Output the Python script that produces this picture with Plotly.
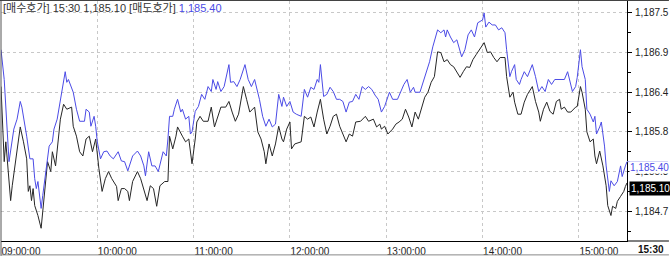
import plotly.graph_objects as go

# minutes after 09:00
ask_t = [0,2,5,6,8,10,12,13,14,16,18,20,21,22,23,25,26,28,30,32,33,35,37,39,40,41,42,45,47,49,52,53,55,56,58,59,60,62,64,66,68,70,73,75,77,79,82,85,87,89,90,92,94,96,98,101,103,104,105,107,108,110,112,113,115,117,118,119,121,123,125,127,129,131,132,134,135,137,139,142,143,145,147,149,152,154,156,158,160,161,163,165,167,169,171,173,175,176,178,180,182,184,187,189,191,193,195,197,198,199,201,203,205,207,209,211,213,215,217,219,221,223,225,227,229,231,233,235,237,239,242,244,247,249,251,253,255,257,258,261,263,265,267,269,272,274,276,277,278,280,282,284,286,287,289,291,293,295,297,300,301,302,304,306,308,310,312,314,315,317,318,320,321,323,324,326,328,331,333,335,337,339,341,343,345,348,351,353,354,356,358,359,361,362,364,365,367,369,370,371,373,374,376,377,379,380,382,384,386,387,389,390]
ask_v = [1186.98,1186.56,1185.40,1185.58,1185.86,1186.00,1186.25,1186.17,1186.04,1185.76,1185.44,1185.44,1185.16,1185.02,1185.12,1184.74,1184.92,1185.26,1185.62,1185.68,1185.86,1186.00,1186.28,1186.52,1186.67,1186.52,1186.56,1186.38,1186.14,1185.97,1185.97,1186.14,1186.10,1185.90,1186.04,1185.90,1185.68,1185.44,1185.54,1185.55,1185.48,1185.44,1185.54,1185.41,1185.40,1185.27,1185.48,1185.55,1185.48,1185.34,1185.20,1185.54,1185.34,1185.34,1185.26,1185.54,1185.48,1185.72,1186.04,1186.04,1186.14,1186.28,1186.10,1186.14,1186.00,1186.04,1185.79,1185.82,1186.11,1186.18,1186.35,1186.28,1186.46,1186.39,1186.56,1186.42,1186.53,1186.39,1186.46,1186.77,1186.52,1186.53,1186.46,1186.56,1186.77,1186.56,1186.46,1186.56,1186.38,1186.28,1186.04,1185.90,1186.00,1185.89,1185.93,1186.35,1186.18,1186.31,1186.18,1186.25,1186.10,1186.07,1186.04,1186.42,1186.31,1186.45,1186.42,1186.56,1186.52,1186.77,1186.32,1186.35,1186.45,1186.39,1186.28,1186.28,1186.25,1186.10,1186.24,1186.25,1186.35,1186.28,1186.46,1186.42,1186.46,1186.42,1186.34,1186.28,1186.10,1186.18,1186.38,1186.28,1186.28,1186.38,1186.49,1186.56,1186.38,1186.45,1186.38,1186.38,1186.52,1186.67,1186.81,1187.02,1187.26,1187.22,1187.26,1187.16,1187.26,1187.16,1187.08,1187.12,1186.98,1186.88,1186.98,1187.19,1187.26,1187.16,1187.36,1187.40,1187.50,1187.30,1187.37,1187.33,1187.33,1187.26,1187.29,1187.22,1186.98,1186.60,1186.67,1186.77,1186.56,1186.49,1186.56,1186.67,1186.60,1186.77,1186.60,1186.39,1186.46,1186.39,1186.56,1186.49,1186.56,1186.56,1186.56,1186.67,1186.56,1186.39,1186.46,1186.59,1186.98,1186.74,1186.56,1186.14,1186.07,1185.96,1186.04,1185.79,1185.89,1185.96,1185.62,1185.34,1184.98,1185.13,1185.06,1185.12,1185.34,1185.19,1185.34,1185.40]

bid_t = [0,2,3,4,6,7,9,11,12,14,16,17,18,19,20,21,23,25,27,29,31,32,34,36,37,39,41,44,45,47,49,51,53,55,57,59,61,63,65,67,69,72,73,75,77,79,80,82,85,87,89,91,93,95,97,99,102,104,105,107,109,110,113,115,117,119,121,122,124,126,129,131,133,135,137,140,142,144,146,148,151,153,155,158,160,162,164,165,167,169,171,173,175,176,178,180,181,183,187,189,191,193,195,197,199,201,203,205,207,209,211,213,215,217,219,221,224,227,229,232,234,236,237,239,241,244,246,248,250,252,254,256,258,260,262,264,266,268,270,272,274,276,278,280,282,284,286,288,290,292,294,296,298,301,303,305,307,309,311,314,315,317,319,320,322,324,326,328,331,333,335,336,338,340,342,344,346,348,349,351,353,355,358,359,361,362,364,365,367,369,370,371,373,375,377,378,380,381,383,384,386,388,389,390]
bid_v = [1186.46,1185.40,1185.68,1185.44,1184.85,1185.06,1185.40,1185.76,1185.89,1185.68,1185.44,1184.98,1185.06,1184.85,1185.02,1184.78,1184.64,1184.46,1184.92,1185.40,1185.26,1185.54,1185.34,1185.76,1186.00,1186.21,1186.14,1186.17,1185.90,1185.76,1185.54,1185.48,1185.72,1185.76,1185.54,1185.72,1185.30,1184.98,1185.16,1185.26,1185.16,1185.05,1184.85,1185.02,1185.02,1184.98,1184.85,1185.12,1185.26,1185.16,1185.02,1184.85,1185.06,1185.02,1184.77,1185.06,1185.12,1185.12,1185.76,1185.58,1185.76,1185.89,1185.76,1185.68,1185.72,1185.37,1185.72,1185.96,1186.04,1185.97,1185.97,1186.17,1185.89,1186.04,1186.17,1186.17,1186.25,1186.10,1185.97,1186.07,1186.46,1186.28,1186.10,1186.17,1185.82,1185.72,1185.54,1185.37,1185.65,1185.48,1185.65,1185.90,1185.72,1185.68,1185.86,1185.96,1185.58,1185.65,1185.68,1186.04,1186.00,1186.03,1185.89,1186.10,1186.28,1186.00,1185.79,1185.90,1186.04,1186.07,1185.90,1185.79,1185.68,1185.79,1185.76,1185.96,1185.97,1186.04,1185.97,1186.00,1185.89,1185.93,1185.86,1185.90,1185.79,1185.86,1185.93,1185.96,1186.00,1186.14,1186.03,1185.89,1186.10,1186.00,1186.14,1186.31,1186.38,1186.52,1186.60,1186.95,1186.94,1186.81,1186.84,1186.77,1186.74,1186.67,1186.59,1186.67,1186.74,1186.73,1186.84,1186.91,1186.98,1187.08,1186.94,1186.95,1186.87,1186.81,1186.87,1186.87,1186.60,1186.31,1186.38,1186.24,1186.07,1186.07,1186.24,1186.35,1186.46,1186.25,1186.10,1185.97,1186.14,1186.24,1186.11,1186.07,1186.25,1186.28,1186.14,1186.17,1186.10,1186.10,1186.17,1186.18,1186.46,1186.38,1186.14,1185.82,1185.68,1185.72,1185.48,1185.37,1185.55,1185.34,1185.06,1184.78,1184.64,1184.77,1184.74,1184.84,1184.91,1184.98,1185.05,1185.10]

x_tickvals = [0, 60, 120, 180, 240, 300, 360]
x_ticktext = ["09:00:00", "10:00:00", "11:00:00", "12:00:00", "13:00:00", "14:00:00", "15:00:00"]
y_tickvals = [1184.70, 1185.26, 1185.82, 1186.38, 1186.94, 1187.50]
y_ticktext = ["1,184.7", "1,185.3", "1,185.8", "1,186.4", "1,186.9", "1,187.5"]

last_time = "15:30"
bid_last = 1185.10
ask_last = 1185.40

FONT = "Liberation Sans, Arial, Noto Sans CJK KR, sans-serif"
BLUE = "#4b4be6"
GRID = "#c8c8c8"

fig = go.Figure()
fig.add_trace(go.Scatter(x=bid_t, y=bid_v, mode="lines", line=dict(color="#262626", width=1), hoverinfo="skip"))
fig.add_trace(go.Scatter(x=ask_t, y=ask_v, mode="lines", line=dict(color=BLUE, width=1), hoverinfo="skip"))

W, H = 670, 258
ml, mr, mt, mb = 1, 42, 1, 15
pw = W - ml - mr

fig.update_layout(
    width=W, height=H,
    margin=dict(l=ml, r=mr, t=mt, b=mb, pad=0),
    paper_bgcolor="white", plot_bgcolor="white",
    showlegend=False,
    font=dict(family=FONT, size=10, color="#222"),
    xaxis=dict(
        range=[0, 390], tickmode="array", tickvals=x_tickvals, ticktext=x_ticktext,
        showgrid=True, gridcolor=GRID, griddash="3px,3px", gridwidth=1,
        showline=True, linecolor="black", linewidth=1,
        ticks="", ticklabelshift=20, ticklabelstandoff=1,
        tickfont=dict(size=10, color="#222"), zeroline=False, fixedrange=True,
    ),
    yaxis=dict(
        side="right", range=[1184.28, 1187.668], tickmode="array",
        tickvals=y_tickvals, ticktext=y_ticktext,
        showgrid=True, gridcolor=GRID, griddash="3px,3px", gridwidth=1,
        showline=True, linecolor="black", linewidth=1,
        ticks="outside", ticklen=4, tickcolor="black", ticklabelstandoff=1,
        minor=dict(tickmode="linear", tick0=1184.70 - 0.28, dtick=0.28, ticks="outside", ticklen=3, tickcolor="black", showgrid=False),
        tickfont=dict(size=10, color="#222"), zeroline=False, fixedrange=True,
    ),
)

shapes = [
    dict(type="line", xref="paper", yref="paper", x0=-ml / pw, x1=(W - ml) / pw, y0=1 + mt / (H - mt - mb) - 0.001, y1=1 + mt / (H - mt - mb) - 0.001, line=dict(color="black", width=1)),
    dict(type="line", xref="paper", yref="paper", x0=0, x1=0, y0=-mb / (H - mt - mb), y1=1, line=dict(color="#555", width=1)),
    dict(type="line", xref="paper", yref="paper", x0=1, x1=(W - ml) / pw, y0=0, y1=0, line=dict(color="black", width=1)),
    dict(type="line", xref="paper", yref="paper", x0=0, x1=(W - ml) / pw, y0=-(mb - 1) / (H - mt - mb), y1=-(mb - 1) / (H - mt - mb), line=dict(color="#888", width=1)),
    dict(type="line", xref="paper", yref="y", x0=1, x1=(W - ml - 1) / pw, y0=ask_last, y1=ask_last, line=dict(color="#9999ee", width=1)),
]
fig.update_layout(shapes=shapes)

annotations = [
    dict(xref="paper", yref="paper", x=0.002, y=1.0, xanchor="left", yanchor="top",
         text=f"[매수호가] {last_time} {bid_v[-1]:,.2f} [매도호가] <span style='color:{BLUE}'>{ask_v[-1]:,.2f}</span>",
         showarrow=False, font=dict(family=FONT, size=11, color="#333"), bgcolor="rgba(255,255,255,0.0)", borderpad=0),
    dict(xref="paper", yref="y", x=1.0 + 2 / pw, y=ask_last, xanchor="left", yanchor="top",
         text=f"{ask_last:,.2f}", showarrow=False, font=dict(family=FONT, size=10, color=BLUE),
         bgcolor="white", borderpad=0, yshift=1),
    dict(xref="paper", yref="y", x=1.0 + 2 / pw, y=bid_last, xanchor="left", yanchor="top",
         text=f"{bid_last:,.2f}", showarrow=False, font=dict(family=FONT, size=10, color="white"),
         bgcolor="black", borderpad=1, yshift=2),
    dict(xref="paper", yref="paper", x=(W - ml - 3) / pw, y=-1 / (H - mt - mb), xanchor="right", yanchor="top",
         text=f"<b>{last_time}</b>", showarrow=False, font=dict(family=FONT, size=10, color="#111")),
]
fig.update_layout(annotations=annotations)

fig.write_html("out.html")
